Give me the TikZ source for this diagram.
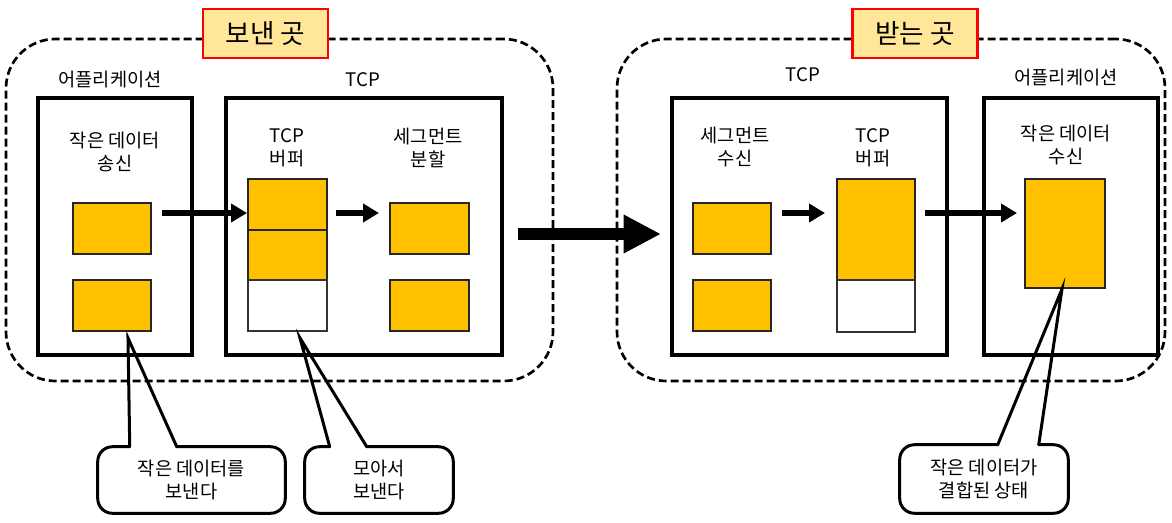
\documentclass[tikz,border=0pt]{standalone}
\usepackage{fontspec}
\setmainfont{Noto Sans CJK KR}
\usetikzlibrary{arrows.meta, positioning, calc}
\definecolor{segyellow}{HTML}{FFC000}
\definecolor{titleyellow}{HTML}{FFE699}

\begin{document}
\begin{tikzpicture}[x=0.75pt, y=-0.75pt,
  zone/.style={draw, line width=2pt, dash pattern=on 6pt off 3pt,
               rounded corners=37pt, minimum height=256.5pt},
  title/.style={draw=red, fill=titleyellow, line width=1.8pt,
                minimum width=93.75pt, minimum height=36.75pt,
                font=\fontsize{20}{24}\selectfont},
  layer/.style={draw, line width=3pt, minimum height=192.75pt},
  blk/.style={draw=black!85, line width=1.5pt, fill=segyellow,
              minimum width=58.5pt, minimum height=38.25pt},
  emptyblk/.style={blk, fill=white, draw=black!80},
  lbl/.style={align=center, font=\fontsize{14}{17}\selectfont},
  arr/.style={-{Triangle[length=12pt,width=13.5pt]}, line width=4pt},
  bigarr/.style={-{Triangle[length=28pt,width=27pt]}, line width=9pt},
  note/.style={align=center, minimum height=49.5pt,
               font=\fontsize{14}{17}\selectfont},
  callout/.style={draw, line width=2.25pt, rounded corners=11pt,
                  line cap=round, line join=round},
  pointer/.style={draw, line width=2.25pt, line cap=round}
]
  \useasboundingbox (0,0) rectangle (1172,522);

  % sending side
  \node[zone, minimum width=410.25pt] (sendzone) at (279.5,210) {};
  \node[title] (sendtitle) at (265.5,33.5) {보낸 곳};

  \node[layer, minimum width=115.5pt] (sapp) at (115,226.5) {};
  \node[layer, minimum width=207pt] (stcp) at (364,226.5) {};
  \node[lbl] at (110,80) {어플리케이션};
  \node[lbl] at (363,80) {TCP};

  \node[lbl] at (115,152) {작은 데이터\\송신};
  \node[lbl] at (287,148) {TCP\\버퍼};
  \node[lbl] at (428,148) {세그먼트\\분할};

  \node[blk] (s1) at (112,228.5) {};
  \node[blk] (s2) at (112,305) {};
  \node[blk, minimum width=59.25pt] (b1) at (287.5,204.5) {};
  \node[blk, minimum width=59.25pt, minimum height=37.5pt] (b2) at (287.5,255) {};
  \node[emptyblk, minimum width=59.25pt] (b3) at (287.5,305.5) {};
  \node[blk, minimum width=59.25pt] (g1) at (429.5,228.5) {};
  \node[blk, minimum width=59.25pt] (g2) at (429.5,305) {};

  \coordinate (a1) at (162,213);
  \draw[arr] (a1) -- (a1 -| b1.west);
  \coordinate (a2) at (336,213);
  \coordinate (a2e) at (379,213);
  \draw[arr] (a2) -- (a2e);

  % transfer
  \coordinate (x1) at (518,234);
  \coordinate (x2) at (661,234);
  \draw[bigarr] (x1) -- (x2);

  % receiving side
  \node[zone, minimum width=411pt] (recvzone) at (891,210) {};
  \node[title] (recvtitle) at (915,33.5) {받는 곳};

  \node[layer, minimum width=206.25pt] (rtcp) at (809.5,226.5) {};
  \node[layer, minimum width=130.5pt] (rapp) at (1071,226.5) {};
  \node[lbl] at (803,75) {TCP};
  \node[lbl] at (1066,78) {어플리케이션};

  \node[lbl] at (735,147) {세그먼트\\수신};
  \node[lbl] at (873,148) {TCP\\버퍼};
  \node[lbl] at (1066,145) {작은 데이터\\수신};

  \node[blk] (r1) at (732,228.5) {};
  \node[blk] (r2) at (732,305) {};
  \node[blk, minimum height=75.75pt] (rb1) at (876,229.5) {};
  \node[emptyblk, minimum height=39pt] (rb2) at (876,306) {};
  \node[blk, minimum width=60pt, minimum height=81.75pt] (d1) at (1065,233.5) {};

  \coordinate (a3) at (782,213);
  \coordinate (a3e) at (825,213);
  \draw[arr] (a3) -- (a3e);
  \coordinate (a4) at (925,213);
  \coordinate (a4e) at (1017,213);
  \draw[arr] (a4) -- (a4e);

  % callouts
  \node[note, minimum width=140.25pt] (c1) at (191.5,480) {작은 데이터를\\보낸다};
  \coordinate (t1) at (128,338);
  \draw[callout] ($(c1.north west)+(79,0)$) -- (c1.north east) -- (c1.south east)
    -- (c1.south west) -- (c1.north west) -- ($(c1.north west)+(32,0)$);
  \draw[pointer] ($(c1.north west)+(32,0)$) -- (t1) -- ($(c1.north west)+(79,0)$);

  \node[note, minimum width=111pt] (c2) at (379,480) {모아서\\보낸다};
  \coordinate (t2) at (300,338);
  \draw[callout] ($(c2.north west)+(62,0)$) -- (c2.north east) -- (c2.south east)
    -- (c2.south west) -- (c2.north west) -- ($(c2.north west)+(25,0)$);
  \draw[pointer] ($(c2.north west)+(25,0)$) -- (t2) -- ($(c2.north west)+(62,0)$);

  \node[note, minimum width=126pt, minimum height=51pt] (c3) at (984,479) {작은 데이터가\\결합된 상태};
  \coordinate (t3) at (1062,289);
  \draw[callout] ($(c3.north west)+(139,0)$) -- (c3.north east) -- (c3.south east)
    -- (c3.south west) -- (c3.north west) -- ($(c3.north west)+(98,0)$);
  \draw[pointer] ($(c3.north west)+(98,0)$) -- (t3) -- ($(c3.north west)+(139,0)$);
\end{tikzpicture}
\end{document}
